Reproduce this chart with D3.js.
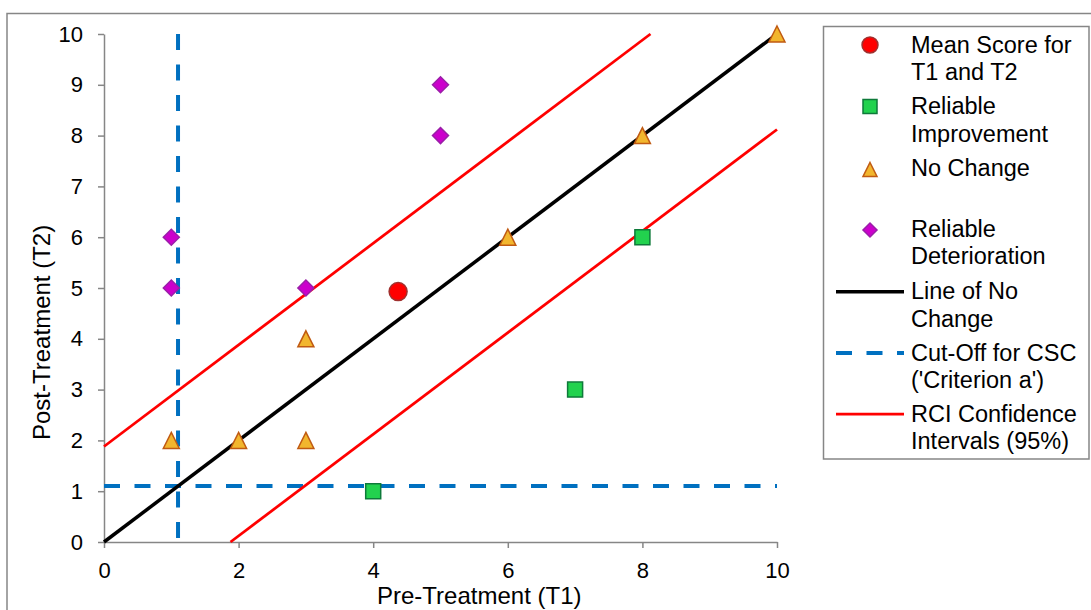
<!DOCTYPE html>
<html>
<head>
<meta charset="utf-8">
<script src="https://cdn.jsdelivr.net/npm/d3@7"></script>
<style>
  html, body { margin: 0; padding: 0; background: #fff; }
  svg { display: block; font-family: "Liberation Sans", Arial, sans-serif; }
</style>
</head>
<body>
<div id="chart"></div>
<script>
// data
const meanScore = [[4.37, 4.93]];
const improvement = [[4, 1], [7, 3], [8, 6]];
const noChange = [[1, 2], [2, 2], [3, 2], [3, 4], [6, 6], [8, 8], [10, 10]];
const deterioration = [[1, 5], [1, 6], [3, 5], [5, 8], [5, 9]];
const cutOff = 1.1;
const rciBand = 1.88;
const xTicks = [0, 2, 4, 6, 8, 10];
const yTicks = [0, 1, 2, 3, 4, 5, 6, 7, 8, 9, 10];
const legendLabels = [
  ["Mean Score for", "T1 and T2"],
  ["Reliable", "Improvement"],
  ["No Change"],
  ["Reliable", "Deterioration"],
  ["Line of No", "Change"],
  ["Cut-Off for CSC", "('Criterion a')"],
  ["RCI Confidence", "Intervals (95%)"]
];

const W = 1091, H = 610;
const grey = "#868686";

const svg = d3.select("#chart").append("svg")
  .attr("width", W).attr("height", H);

// outer chart frame (runs off the right and bottom edge)
svg.append("rect")
  .attr("x", 7).attr("y", 13.5)
  .attr("width", 1200).attr("height", 700)
  .attr("fill", "none").attr("stroke", grey).attr("stroke-width", 1.5);

const x = d3.scaleLinear().domain([0, 10]).range([104, 777]);
const y = d3.scaleLinear().domain([0, 10]).range([542, 34]);

// triangle with equal height and width, centred on its box
const triangle = {
  draw(ctx, size) {
    const h = Math.sqrt(size) / 2;
    ctx.moveTo(0, -h);
    ctx.lineTo(h, h);
    ctx.lineTo(-h, h);
    ctx.closePath();
  }
};

// axes
const xAxis = svg.append("g")
  .attr("transform", `translate(0,${y(0)})`)
  .call(d3.axisBottom(x).tickValues(xTicks).tickSize(6).tickPadding(14).tickSizeOuter(0));
const yAxis = svg.append("g")
  .attr("transform", `translate(${x(0)},0)`)
  .call(d3.axisLeft(y).tickValues(yTicks).tickSize(6).tickPadding(15).tickSizeOuter(0));

[xAxis, yAxis].forEach(a => {
  a.select(".domain").attr("stroke", grey).attr("stroke-width", 1.5);
  a.selectAll(".tick line").attr("stroke", grey).attr("stroke-width", 1.5);
  a.selectAll(".tick text").attr("fill", "#000").style("font-size", "22px")
    .style("font-family", "Liberation Sans, Arial, sans-serif");
});

svg.append("text")
  .attr("x", 377).attr("y", 604)
  .style("font-size", "24px")
  .text("Pre-Treatment (T1)");

svg.append("text")
  .attr("transform", "translate(50,440) rotate(-90)")
  .style("font-size", "24px")
  .text("Post-Treatment (T2)");

const line = d3.line().x(d => x(d[0])).y(d => y(d[1]));

// cut-off lines
svg.append("path")
  .attr("d", line([[cutOff, 10], [cutOff, 0]]))
  .attr("fill", "none").attr("stroke", "#0070C0")
  .attr("stroke-width", 4).attr("stroke-dasharray", "16,14.5");
svg.append("path")
  .attr("d", line([[0, cutOff], [10, cutOff]]))
  .attr("fill", "none").attr("stroke", "#0070C0")
  .attr("stroke-width", 4).attr("stroke-dasharray", "16,14.5");

// RCI bands
svg.append("path")
  .attr("d", line([[0, rciBand], [10 - rciBand, 10]]))
  .attr("fill", "none").attr("stroke", "#FF0000").attr("stroke-width", 2.75);
svg.append("path")
  .attr("d", line([[rciBand, 0], [10, 10 - rciBand]]))
  .attr("fill", "none").attr("stroke", "#FF0000").attr("stroke-width", 2.75);

// line of no change
svg.append("path")
  .attr("d", line([[0, 0], [10, 10]]))
  .attr("fill", "none").attr("stroke", "#000").attr("stroke-width", 3.5);

const styles = {
  mean: { type: d3.symbolCircle, size: 254, fill: "#FF0000", stroke: "#A0302E", rot: 0 },
  imp: { type: d3.symbolSquare, size: 225, fill: "#22D24E", stroke: "#0E7A3A", rot: 0 },
  none: { type: triangle, size: 256, fill: "#F2B62E", stroke: "#C05A12", rot: 0 },
  det: { type: d3.symbolSquare, size: 128, fill: "#CC00CC", stroke: "#9A1FA8", rot: 45 }
};

function drawPoints(data, st) {
  svg.append("g").selectAll("path")
    .data(data).join("path")
    .attr("transform", d => `translate(${x(d[0])},${y(d[1])}) rotate(${st.rot})`)
    .attr("d", d3.symbol().type(st.type).size(st.size))
    .attr("fill", st.fill).attr("stroke", st.stroke).attr("stroke-width", 1.5);
}

drawPoints(improvement, styles.imp);
drawPoints(noChange, styles.none);
drawPoints(deterioration, styles.det);
drawPoints(meanScore, styles.mean);

// legend
svg.append("rect")
  .attr("x", 823.5).attr("y", 26.5)
  .attr("width", 265.5).attr("height", 432.5)
  .attr("fill", "#fff").attr("stroke", grey).attr("stroke-width", 1.5);

const legendY = [52.7, 114.3, 175.7, 236.7, 299.3, 360.7, 422];
const markerY = [45, 106.5, 169.5, 230, 291.7, 353, 414];
const leg = svg.append("g");

legendLabels.forEach((lines, i) => {
  const t = leg.append("text")
    .attr("x", 911).attr("y", legendY[i])
    .style("font-size", "23.5px");
  lines.forEach((s, j) => {
    t.append("tspan").attr("x", 911).attr("y", legendY[i] + j * 27.2).text(s);
  });
});

const legMarks = [
  [styles.mean, 200], [styles.imp, 196], [styles.none, 196], [styles.det, 98]
];
legMarks.forEach(([st, sz], i) => {
  leg.append("path")
    .attr("transform", `translate(870,${markerY[i]}) rotate(${st.rot})`)
    .attr("d", d3.symbol().type(st.type).size(sz))
    .attr("fill", st.fill).attr("stroke", st.stroke).attr("stroke-width", 1.5);
});

const legLines = [
  { stroke: "#000", w: 3.5, dash: null },
  { stroke: "#0070C0", w: 4, dash: "16,14.5" },
  { stroke: "#FF0000", w: 2.75, dash: null }
];
legLines.forEach((l, i) => {
  leg.append("line")
    .attr("x1", 836).attr("x2", 904)
    .attr("y1", markerY[4 + i]).attr("y2", markerY[4 + i])
    .attr("stroke", l.stroke).attr("stroke-width", l.w)
    .attr("stroke-dasharray", l.dash);
});
</script>
</body>
</html>
